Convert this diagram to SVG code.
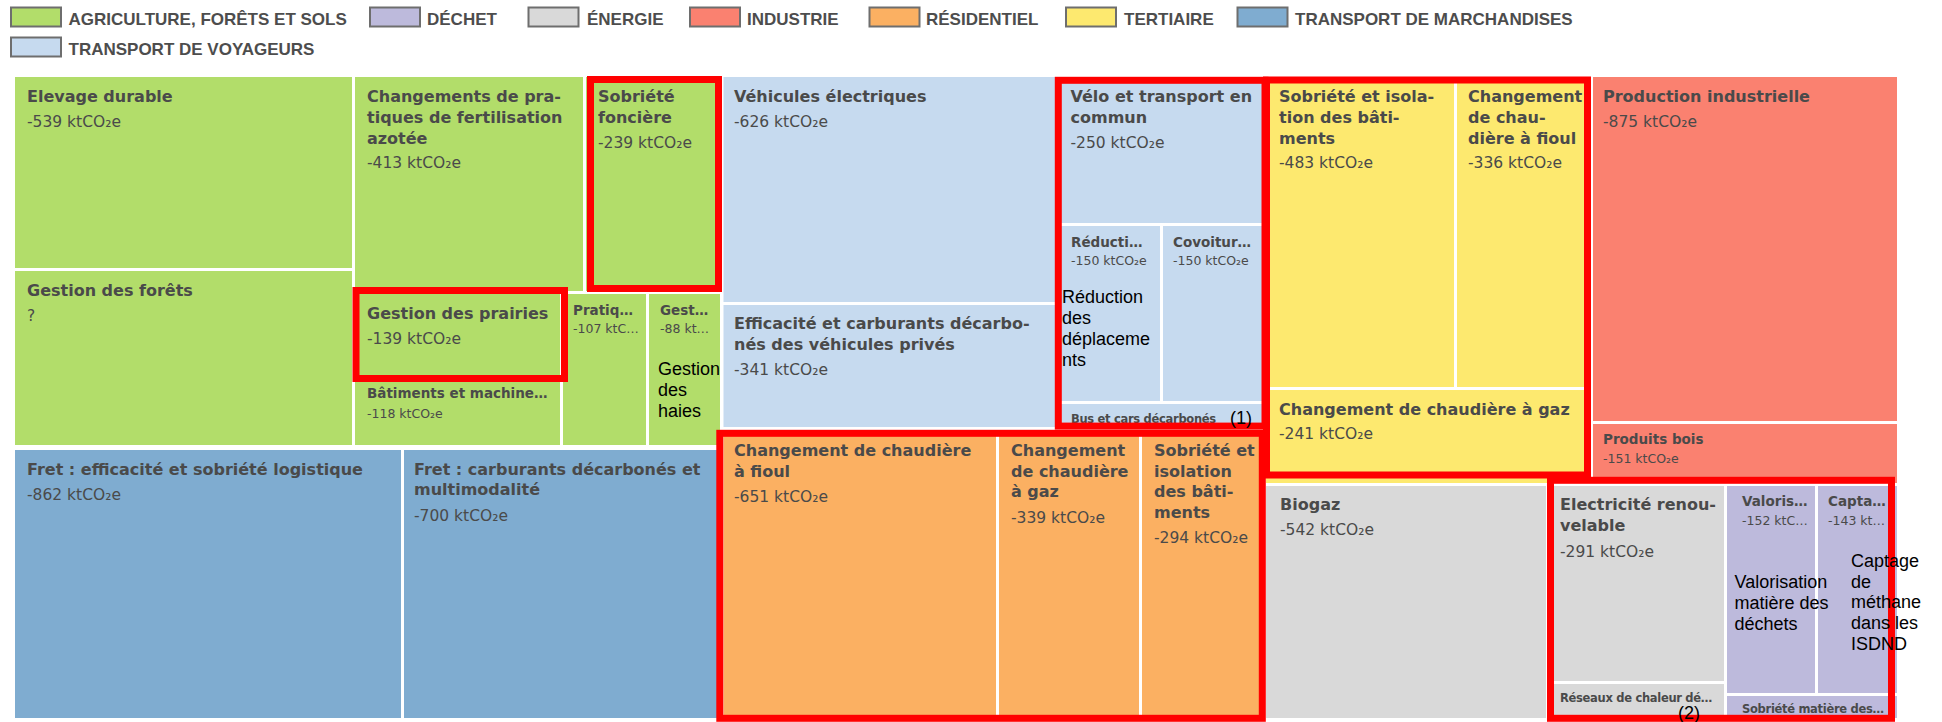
<svg xmlns="http://www.w3.org/2000/svg" width="1942" height="722" viewBox="0 0 1942 722">
<style>
.agri{fill:#b2dd6a}.dech{fill:#bdbadc}.ener{fill:#d9d9d9}.indu{fill:#fa8170}.resi{fill:#fbb062}.tert{fill:#fde96f}.marc{fill:#7facd0}.voya{fill:#c6daef}
.sw{stroke:#6e6e6e;stroke-width:2}
.lg{font-family:"Liberation Sans",Arial,sans-serif;font-weight:bold;font-size:17px;fill:#4d4d4d}
.t{font-family:"DejaVu Sans",sans-serif;font-weight:bold;font-size:16px;fill:#4a4a4a}
.v{font-family:"DejaVu Sans",sans-serif;font-size:15.5px;fill:#4a4a4a}
.ts{font-family:"DejaVu Sans",sans-serif;font-weight:bold;font-size:13.5px;fill:#4a4a4a}
.vs{font-family:"DejaVu Sans",sans-serif;font-size:12.5px;fill:#4a4a4a}
.tt{font-family:"DejaVu Sans",sans-serif;font-weight:bold;font-size:11.5px;fill:#4a4a4a;letter-spacing:-0.3px}
.a{font-family:"Liberation Sans",Arial,sans-serif;font-size:18px;fill:#000}
.hl{fill:none;stroke:#ff0000;stroke-width:7}
</style>
<rect width="1942" height="722" fill="#fff"/>
<g id="legend">
<rect class="sw agri" x="11" y="7.5" width="50" height="19"/><text class="lg" x="68.5" y="24.5">AGRICULTURE, FORÊTS ET SOLS</text>
<rect class="sw dech" x="370" y="7.5" width="50" height="19"/><text class="lg" x="427" y="24.5">DÉCHET</text>
<rect class="sw ener" x="528.5" y="7.5" width="50" height="19"/><text class="lg" x="587" y="24.5">ÉNERGIE</text>
<rect class="sw indu" x="690" y="7.5" width="50" height="19"/><text class="lg" x="747" y="24.5">INDUSTRIE</text>
<rect class="sw resi" x="869.5" y="7.5" width="50" height="19"/><text class="lg" x="926" y="24.5">RÉSIDENTIEL</text>
<rect class="sw tert" x="1066" y="7.5" width="50" height="19"/><text class="lg" x="1124" y="24.5">TERTIAIRE</text>
<rect class="sw marc" x="1237.5" y="7.5" width="50" height="19"/><text class="lg" x="1295" y="24.5">TRANSPORT DE MARCHANDISES</text>
<rect class="sw voya" x="11" y="37.5" width="50" height="19"/><text class="lg" x="68.5" y="54.5">TRANSPORT DE VOYAGEURS</text>
</g>
<g id="elevage"><rect class="agri" x="15" y="77" width="337" height="191"/><text class="t" x="27" y="102">Elevage durable</text><text class="v" x="27" y="127">-539 ktCO₂e</text></g>
<g id="forets"><rect class="agri" x="15" y="271" width="337" height="174"/><text class="t" x="27" y="296">Gestion des forêts</text><text class="v" x="27" y="321">?</text></g>
<g id="fertilisation"><rect class="agri" x="355" y="77" width="228" height="214"/><text class="t" x="367" y="102">Changements de pra-</text><text class="t" x="367" y="123">tiques de fertilisation</text><text class="t" x="367" y="144">azotée</text><text class="v" x="367" y="168">-413 ktCO₂e</text></g>
<g id="sobriete-fonciere"><rect class="agri" x="586" y="77" width="134" height="214"/><text class="t" x="598" y="102">Sobriété</text><text class="t" x="598" y="123">foncière</text><text class="v" x="598" y="148">-239 ktCO₂e</text></g>
<g id="prairies"><rect class="agri" x="355" y="294" width="205" height="84"/><text class="t" x="367" y="319">Gestion des prairies</text><text class="v" x="367" y="344">-139 ktCO₂e</text></g>
<g id="batiments"><rect class="agri" x="355" y="381" width="205" height="64"/><text class="ts" x="367" y="398">Bâtiments et machine…</text><text class="vs" x="367" y="418">-118 ktCO₂e</text></g>
<g id="pratiq"><rect class="agri" x="563" y="294" width="83" height="151"/><text class="ts" x="573" y="315">Pratiq…</text><text class="vs" x="573" y="333">-107 ktC…</text></g>
<g id="haies"><rect class="agri" x="649" y="294" width="71" height="151"/><text class="ts" x="660" y="315">Gest…</text><text class="vs" x="660" y="333">-88 kt…</text></g>
<g id="vehicules-electriques"><rect class="voya" x="723.5" y="77" width="331.5" height="225"/><text class="t" x="734" y="102">Véhicules électriques</text><text class="v" x="734" y="127">-626 ktCO₂e</text></g>
<g id="efficacite-vehicules"><rect class="voya" x="723.5" y="305" width="331.5" height="122"/><text class="t" x="734" y="329">Efficacité et carburants décarbo-</text><text class="t" x="734" y="350">nés des véhicules privés</text><text class="v" x="734" y="375">-341 ktCO₂e</text></g>
<g id="velo"><rect class="voya" x="1058" y="77" width="205" height="146"/><text class="t" x="1070.5" y="102">Vélo et transport en</text><text class="t" x="1070.5" y="123">commun</text><text class="v" x="1070.5" y="148">-250 ktCO₂e</text></g>
<g id="reduction"><rect class="voya" x="1058" y="226" width="102" height="175"/><text class="ts" x="1071" y="247">Réducti…</text><text class="vs" x="1071" y="265">-150 ktCO₂e</text></g>
<g id="covoiturage"><rect class="voya" x="1163" y="226" width="100" height="175"/><text class="ts" x="1173" y="247">Covoitur…</text><text class="vs" x="1173" y="265">-150 ktCO₂e</text></g>
<g id="bus"><rect class="voya" x="1058" y="404" width="205" height="23"/><text class="tt" x="1071" y="423">Bus et cars décarbonés</text></g>
<g id="fret-efficacite"><rect class="marc" x="15" y="450" width="386" height="268"/><text class="t" x="27" y="475">Fret : efficacité et sobriété logistique</text><text class="v" x="27" y="500">-862 ktCO₂e</text></g>
<g id="fret-carburants"><rect class="marc" x="404" y="450" width="316" height="268"/><text class="t" x="414" y="475">Fret : carburants décarbonés et</text><text class="t" x="414" y="495">multimodalité</text><text class="v" x="414" y="521">-700 ktCO₂e</text></g>
<g id="res-fioul"><rect class="resi" x="723.5" y="430" width="272.5" height="288"/><text class="t" x="734" y="456">Changement de chaudière</text><text class="t" x="734" y="477">à fioul</text><text class="v" x="734" y="502">-651 ktCO₂e</text></g>
<g id="res-gaz"><rect class="resi" x="999" y="430" width="140" height="288"/><text class="t" x="1011" y="456">Changement</text><text class="t" x="1011" y="477">de chaudière</text><text class="t" x="1011" y="497">à gaz</text><text class="v" x="1011" y="523">-339 ktCO₂e</text></g>
<g id="res-sobriete"><rect class="resi" x="1142" y="430" width="121" height="288"/><text class="t" x="1154" y="456">Sobriété et</text><text class="t" x="1154" y="477">isolation</text><text class="t" x="1154" y="497">des bâti-</text><text class="t" x="1154" y="518">ments</text><text class="v" x="1154" y="543">-294 ktCO₂e</text></g>
<g id="ter-sobriete"><rect class="tert" x="1266" y="77" width="188" height="310"/><text class="t" x="1279" y="102">Sobriété et isola-</text><text class="t" x="1279" y="123">tion des bâti-</text><text class="t" x="1279" y="144">ments</text><text class="v" x="1279" y="168">-483 ktCO₂e</text></g>
<g id="ter-fioul"><rect class="tert" x="1457" y="77" width="133" height="310"/><text class="t" x="1468" y="102">Changement</text><text class="t" x="1468" y="123">de chau-</text><text class="t" x="1468" y="144">dière à fioul</text><text class="v" x="1468" y="168">-336 ktCO₂e</text></g>
<g id="ter-gaz"><rect class="tert" x="1266" y="390" width="324" height="93"/><text class="t" x="1279" y="415">Changement de chaudière à gaz</text><text class="v" x="1279" y="439">-241 ktCO₂e</text></g>
<g id="production-industrielle"><rect class="indu" x="1593" y="77" width="304" height="344"/><text class="t" x="1603" y="102">Production industrielle</text><text class="v" x="1603" y="127">-875 ktCO₂e</text></g>
<g id="produits-bois"><rect class="indu" x="1593" y="424" width="304" height="59"/><text class="ts" x="1603" y="444">Produits bois</text><text class="vs" x="1603" y="463">-151 ktCO₂e</text></g>
<g id="biogaz"><rect class="ener" x="1266" y="486" width="280" height="232"/><text class="t" x="1280" y="510">Biogaz</text><text class="v" x="1280" y="535">-542 ktCO₂e</text></g>
<g id="electricite"><rect class="ener" x="1549" y="486" width="175" height="195"/><text class="t" x="1560" y="510">Electricité renou-</text><text class="t" x="1560" y="531">velable</text><text class="v" x="1560" y="557">-291 ktCO₂e</text></g>
<g id="reseaux"><rect class="ener" x="1549" y="684" width="175" height="34"/><text class="tt" x="1560" y="702">Réseaux de chaleur dé…</text></g>
<g id="valorisation"><rect class="dech" x="1727" y="486" width="88" height="207"/><text class="ts" x="1742" y="506">Valoris…</text><text class="vs" x="1742" y="525">-152 ktC…</text></g>
<g id="captage"><rect class="dech" x="1818" y="486" width="79" height="207"/><text class="ts" x="1828" y="506">Capta…</text><text class="vs" x="1828" y="525">-143 kt…</text></g>
<g id="sobriete-matiere"><rect class="dech" x="1727" y="696" width="170" height="22"/><text class="tt" x="1742" y="713">Sobriété matière des…</text></g>
<g id="highlights">
<rect class="hl" x="590.5" y="79.5" width="128" height="209"/>
<rect class="hl" x="356" y="290.5" width="208.5" height="88"/>
<rect class="hl" x="1058.3" y="80.3" width="206.7" height="345.8"/>
<rect class="hl" x="1266.5" y="80" width="321" height="395"/>
<rect class="hl" x="719.8" y="433.3" width="542.5" height="285"/>
<rect class="hl" x="1550.5" y="480.3" width="341" height="238"/>
</g>
<g id="annotations">
<text class="a" x="658" y="375">Gestion</text><text class="a" x="658" y="396">des</text><text class="a" x="658" y="417">haies</text>
<text class="a" x="1062" y="303">Réduction</text><text class="a" x="1062" y="324">des</text><text class="a" x="1062" y="345">déplaceme</text><text class="a" x="1062" y="366">nts</text>
<text class="a" x="1230" y="424">(1)</text>
<text class="a" x="1734.5" y="588">Valorisation</text><text class="a" x="1734.5" y="609">matière des</text><text class="a" x="1734.5" y="630">déchets</text>
<text class="a" x="1851" y="567">Captage</text><text class="a" x="1851" y="588">de</text><text class="a" x="1851" y="608">méthane</text><text class="a" x="1851" y="629">dans les</text><text class="a" x="1851" y="650">ISDND</text>
<text class="a" x="1678" y="719">(2)</text>
</g>
</svg>
